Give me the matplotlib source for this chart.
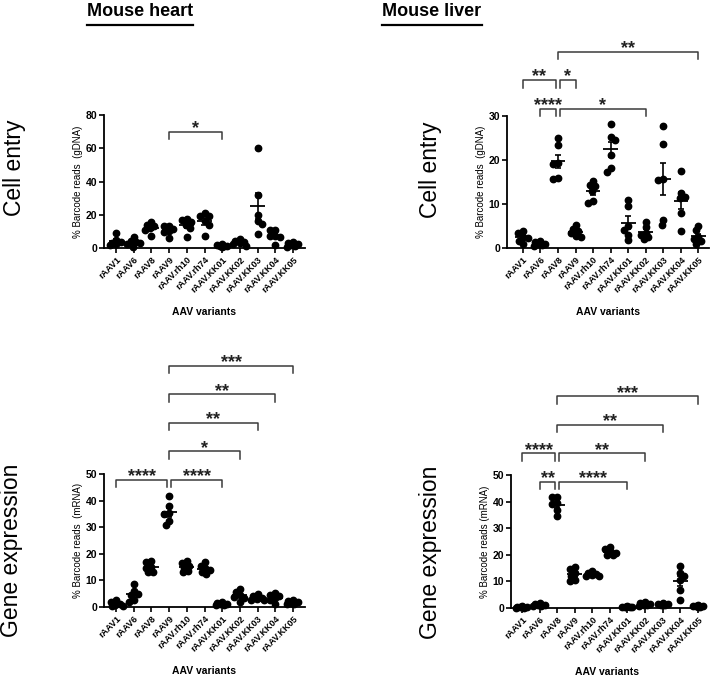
"""AAV barcode screen: cell entry (gDNA) and gene expression (mRNA) in mouse heart and liver."""
import matplotlib
matplotlib.use("Agg")
import matplotlib.pyplot as plt
import numpy as np

plt.rcParams["font.family"] = ["Liberation Sans", "DejaVu Sans"]

VARIANTS = ["rAAV1", "rAAV6", "rAAV8", "rAAV9", "rAAV.rh10", "rAAV.rh74",
            "rAAV.KK01", "rAAV.KK02", "rAAV.KK03", "rAAV.KK04", "rAAV.KK05"]

# % barcode reads per animal (n=6)
heart_gdna = [
    [8.8, 5.0, 3.5, 3.0, 2.5, 2.0],
    [6.5, 4.0, 3.5, 3.0, 2.5, 0.8],
    [15.5, 14.0, 13.0, 12.0, 11.0, 7.0],
    [13.5, 13.0, 11.5, 10.0, 9.5, 5.8],
    [17.5, 16.8, 15.5, 14.0, 12.0, 6.6],
    [21.0, 19.5, 19.0, 16.0, 14.0, 7.4],
    [2.2, 1.8, 1.5, 1.2, 1.0, 0.8],
    [5.5, 4.0, 3.5, 3.0, 2.2, 1.5],
    [60.4, 31.6, 20.0, 16.4, 14.4, 8.4],
    [11.0, 10.6, 7.4, 7.0, 6.6, 1.6],
    [3.5, 3.0, 2.5, 2.0, 1.5, 0.5],
]
liver_gdna = [
    [3.8, 3.3, 2.6, 2.3, 1.7, 0.8],
    [1.6, 1.3, 1.0, 0.9, 0.7, 0.5],
    [24.9, 23.4, 19.3, 19.0, 15.9, 15.7],
    [5.3, 4.3, 3.8, 3.3, 2.7, 2.5],
    [15.3, 14.4, 14.0, 13.0, 10.6, 10.2],
    [28.2, 25.2, 24.6, 21.2, 18.1, 17.2],
    [10.8, 9.5, 5.0, 4.2, 3.0, 1.8],
    [6.0, 4.8, 3.5, 3.0, 2.5, 2.0],
    [27.7, 23.7, 15.6, 15.5, 6.4, 5.3],
    [17.4, 12.5, 11.7, 11.3, 7.9, 3.8],
    [5.0, 4.0, 2.5, 2.0, 1.5, 1.0],
]
heart_mrna = [
    [2.6, 1.8, 1.2, 0.8, 0.5, 0.2],
    [8.5, 6.2, 5.0, 4.5, 2.6, 2.0],
    [17.2, 16.8, 15.0, 14.8, 13.2, 13.0],
    [41.9, 37.9, 35.3, 34.8, 32.5, 30.9],
    [17.2, 16.5, 15.5, 14.8, 13.5, 13.0],
    [16.8, 15.5, 14.5, 13.8, 13.0, 12.5],
    [1.8, 1.5, 1.2, 1.0, 0.8, 0.6],
    [6.9, 5.6, 4.5, 3.8, 3.2, 2.0],
    [4.8, 4.0, 3.5, 3.0, 2.8, 2.5],
    [5.2, 4.6, 4.0, 3.5, 2.6, 1.0],
    [2.5, 2.2, 1.9, 1.6, 1.3, 1.0],
]
liver_mrna = [
    [0.6, 0.4, 0.3, 0.2, 0.1, 0.05],
    [2.0, 1.6, 1.3, 1.1, 0.9, 0.8],
    [41.9, 41.6, 39.4, 39.1, 36.9, 34.4],
    [15.6, 14.6, 13.1, 11.9, 10.6, 10.0],
    [14.0, 13.0, 12.8, 12.5, 12.2, 12.0],
    [22.8, 22.0, 21.0, 20.5, 20.0, 19.8],
    [0.6, 0.5, 0.4, 0.3, 0.3, 0.2],
    [2.3, 1.8, 1.5, 1.2, 1.0, 0.8],
    [1.8, 1.6, 1.4, 1.2, 1.1, 1.0],
    [15.9, 13.1, 11.9, 10.6, 6.9, 3.1],
    [1.0, 0.8, 0.7, 0.6, 0.5, 0.4],
]

# comparisons: (group a, group b, label, bracket level)
heart_gdna_sig = [(3, 6, "*", 0)]
liver_gdna_sig = [(1, 2, "****", 0), (2, 7, "*", 0), (0, 2, "**", 1),
                  (2, 3, "*", 1), (2, 10, "**", 2)]
heart_mrna_sig = [(0, 3, "****", 0), (3, 6, "****", 0), (3, 7, "*", 1),
                  (3, 8, "**", 2), (3, 9, "**", 3), (3, 10, "***", 4)]
liver_mrna_sig = [(1, 2, "**", 0), (2, 6, "****", 0), (0, 2, "****", 1),
                  (2, 7, "**", 1), (2, 8, "**", 2), (2, 10, "***", 3)]

W, H = 716, 679
fig = plt.figure(figsize=(W / 100, H / 100), dpi=100)


def px_axes(left, top, right, bottom):
    return fig.add_axes([left / W, 1 - bottom / H, (right - left) / W, (bottom - top) / H])


def swarm_offsets(vals, ppu_x, ppu_y, d=5.0, max_px=6.5):
    # simple beeswarm in pixel space, spread capped so groups stay compact
    vals = np.asarray(vals)
    order = np.argsort(vals)[::-1]
    steps = np.arange(0, max_px + 0.01, 0.5)
    placed = []
    offs = np.zeros(len(vals))
    for n, k in enumerate(order):
        y = vals[k] * ppu_y
        sign = 1 if n % 2 == 0 else -1
        cands = [c for s in steps for c in ((sign * s, -sign * s) if s else (0.0,))]
        best, best_d = 0.0, -1.0
        for c in cands:
            md = min([np.hypot(c - px, y - py) for px, py in placed] or [99.0])
            if md >= d:
                best = c
                break
            if md > best_d + 0.3:
                best, best_d = c, md
        placed.append((best, y))
        offs[k] = best / ppu_x
    return offs


def panel(box, xlim, ymax, yticks, data, sig, base, ylabel):
    ax = px_axes(*box)
    ax.set_xlim(*xlim)
    ax.set_ylim(0, ymax)
    w_px = box[2] - box[0]
    h_px = box[3] - box[1]
    ppu_x = w_px / (xlim[1] - xlim[0])
    ppu_y = h_px / ymax

    for i, vals in enumerate(data):
        vals = np.asarray(vals)
        xs = i + swarm_offsets(vals, ppu_x, ppu_y)
        ax.plot(xs, vals, "o", ms=4.6, color="black", mec="black", clip_on=False, zorder=3)
        m = vals.mean()
        sem = vals.std(ddof=1) / np.sqrt(len(vals))
        ax.hlines(m, i - 0.42, i + 0.42, color="black", lw=1.3, zorder=4)
        ax.vlines(i, m - sem, m + sem, color="black", lw=1.2, zorder=4)
        ax.hlines([m - sem, m + sem], i - 0.17, i + 0.17, color="black", lw=1.2, zorder=4)

    tick = 7.5 / ppu_y
    for a, b, label, lev in sig:
        y = base + lev * 28.5 / ppu_y
        xa, xb = float(a), float(b)
        for a2, b2, _, lev2 in sig:
            if lev2 == lev and b2 == a:
                xa += 0.1
            if lev2 == lev and a2 == b:
                xb -= 0.1
        ax.plot([xa, xa, xb, xb], [y - tick, y, y, y - tick], color="#3a3a3a",
                lw=1.1, clip_on=False)
        ax.text((xa + xb) / 2, y - 1.5 / ppu_y, label, ha="center", va="baseline",
                fontsize=13, fontweight="bold", color="#222222", clip_on=False)

    for s in ("top", "right"):
        ax.spines[s].set_visible(False)
    for s in ("left", "bottom"):
        ax.spines[s].set_linewidth(1.3)
    ax.set_yticks(yticks)
    ax.set_xticks(range(len(VARIANTS)))
    ax.set_xticklabels(VARIANTS, rotation=45, ha="right", rotation_mode="anchor",
                       fontsize=6.5, fontweight="bold")
    ax.tick_params(axis="both", direction="out", length=3.5, width=1.2, pad=1.5)
    ax.tick_params(axis="y", labelsize=7.5)
    for t in ax.get_yticklabels():
        t.set_fontweight("bold")
    ax.set_ylabel(ylabel, fontsize=7, labelpad=2)
    ax.set_xlabel("AAV variants", fontsize=7.5, fontweight="bold", labelpad=9)
    return ax


panel((104, 115, 305, 248), (-0.68, 10.68), 80, [0, 20, 40, 60, 80],
      heart_gdna, heart_gdna_sig, 70, "% Barcode reads  (gDNA)")
panel((507, 116, 709, 248), (-0.9, 10.6), 30, [0, 10, 20, 30],
      liver_gdna, liver_gdna_sig, 31.7, "% Barcode reads  (gDNA)")
panel((104, 474, 305, 607), (-0.68, 10.68), 50, [0, 10, 20, 30, 40, 50],
      heart_mrna, heart_mrna_sig, 47.75, "% Barcode reads  (mRNA)")
panel((511, 475, 703, 608), (-0.63, 10.3), 50, [0, 10, 20, 30, 40, 50],
      liver_mrna, liver_mrna_sig, 47.5, "% Barcode reads (mRNA)")

# row titles
for x, y, s in [(15, 168, "Cell entry"), (431, 170, "Cell entry"),
                (12, 550, "Gene expression"), (431, 552, "Gene expression")]:
    fig.text(x / W, 1 - y / H, s, rotation=90, ha="center", va="center", fontsize=16.5)

# column titles, underlined
titles = []
for x, s in [(140, "Mouse heart"), (432, "Mouse liver")]:
    titles.append(fig.text(x / W, 1 - 12 / H, s, ha="center", va="center", fontsize=13,
                           fontweight="bold",
                           family=["Liberation Sans Narrow", "Liberation Sans"]))
fig.canvas.draw()
for t in titles:
    bb = t.get_window_extent()
    fig.add_artist(plt.Line2D([bb.x0 / W, bb.x1 / W], [1 - 24.5 / H, 1 - 24.5 / H],
                              color="black", lw=1.6, transform=fig.transFigure))

fig.savefig("out.png", dpi=100)
